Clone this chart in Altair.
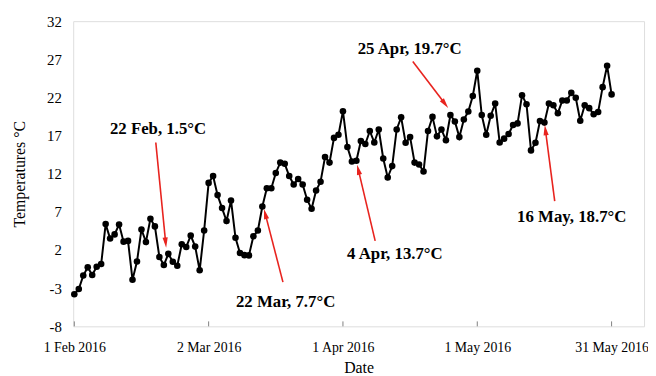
import math
import altair as alt
import pandas as pd

# ---------------- data ----------------
start_date = "2016-02-01"
temps = [
    -3.8, -3.1, -1.35, -0.27, -1.26, -0.2, 0.16, 5.4, 3.5, 4.05,
    5.34, 3.1, 3.2, -1.9, 0.5, 4.7, 3.05, 6.1, 5.1, 1.1,
    0.03, 1.5, 0.46, -0.06, 2.75, 2.4, 3.9, 2.45, -0.66, 4.56,
    10.8, 11.7, 9.2, 7.5, 5.8, 8.5, 3.6, 1.6, 1.33, 1.3,
    3.8, 4.56, 7.7, 10.1, 10.1, 12.1, 13.46, 13.3, 11.7, 10.6,
    11.3, 10.6, 8.6, 7.4, 9.8, 10.95, 14.2, 13.46, 16.7, 17.1,
    20.2, 15.5, 13.6, 13.7, 16.3, 15.9, 17.6, 16.1, 17.8, 14.0,
    11.5, 13.0, 17.8, 19.4, 16.05, 16.8, 13.46, 13.2, 12.3, 17.6,
    19.45, 16.9, 17.8, 16.4, 19.7, 18.85, 16.8, 19.1, 20.15, 22.2,
    25.5, 19.7, 17.1, 19.6, 21.2, 16.1, 16.6, 17.2, 18.4, 18.6,
    22.3, 21.1, 15.06, 16.05, 18.9, 18.7, 21.2, 20.98, 19.94, 21.6,
    21.6, 22.6, 21.96, 18.94, 20.98, 20.6, 19.8, 20.1, 23.35, 26.16,
    22.4,
]
x_tick_dates = ["2016-02-01", "2016-03-02", "2016-04-01", "2016-05-01", "2016-05-31"]
y_ticks = [-8, -3, 2, 7, 12, 17, 22, 27, 32]

ann_text = ["22 Feb, 1.5°C", "22 Mar, 7.7°C", "4 Apr, 13.7°C", "25 Apr, 19.7°C", "16 May, 18.7°C"]
ann_text_day = [18.7, 47.2, 71.6, 74.9, 111.1]
ann_text_val = [17.9, -4.76, 1.46, 28.4, 6.38]
arrow_start_day = [18.2, 46.6, 67.2, 75.6, 107.3]
arrow_start_val = [16.1, -2.2, 3.2, 26.7, 8.4]
arrow_tip_day = [20.5, 42.4, 63.2, 83.4, 105.1]
arrow_tip_val = [2.4, 7.3, 13.1, 20.7, 18.3]

# ---------------- layout ----------------
W, H = 578, 309
day_min, day_max = -0.25, 127.25
y_min, y_max = -8, 32
px_per_day = W / (day_max - day_min)
px_per_unit = H / (y_max - y_min)
FONT = "Liberation Serif"
RED = "#e8231e"
t0 = pd.Timestamp(start_date)


def day_to_ts(d):
    return t0 + pd.to_timedelta(d, unit="D")


df = pd.DataFrame({
    "date": [day_to_ts(i) for i in range(len(temps))],
    "temp": temps,
})

rows = []
for sd, sv, td, tv in zip(arrow_start_day, arrow_start_val, arrow_tip_day, arrow_tip_val):
    dx = (td - sd) * px_per_day
    dy = -(tv - sv) * px_per_unit  # pixel y grows downward
    L = math.hypot(dx, dy)
    ux, uy = dx / L, dy / L
    back = 4.5
    hx = td - ux * back / px_per_day
    hy = tv + uy * back / px_per_unit
    ang = math.degrees(math.atan2(dx, -dy)) % 360
    rows.append({
        "s": day_to_ts(sd), "sv": sv,
        "e": day_to_ts(hx), "ev": hy,
        "h": day_to_ts(hx), "hv": hy, "ang": ang,
    })
arrows = pd.DataFrame(rows)

labels = pd.DataFrame({
    "t": ann_text,
    "d": [day_to_ts(d) for d in ann_text_day],
    "v": ann_text_val,
})

ticks_df = pd.DataFrame({"d": pd.to_datetime(x_tick_dates)})

x_scale = alt.Scale(domain=[day_to_ts(day_min).isoformat(), day_to_ts(day_max).isoformat()])
y_scale = alt.Scale(domain=[y_min, y_max], nice=False, zero=False)

x_axis = alt.Axis(
    values=[alt.DateTime(year=2016, month=int(d[5:7]), date=int(d[8:10])) for d in x_tick_dates],
    format="%-d %b %Y", labelFont=FONT, labelFontSize=14, labelColor="black",
    ticks=False, tickSize=0, domain=False, grid=False, labelPadding=14,
    labelOverlap=False, labelBound=False, labelFlush=False,
    title="Date", titleFont=FONT, titleFontSize=16, titleFontWeight="normal",
    titleColor="black", titlePadding=6,
)
y_axis = alt.Axis(
    values=y_ticks, tickCount=len(y_ticks), labelFont=FONT, labelFontSize=15, labelColor="black",
    labelExpr="toString(datum.value)", labelOverlap=False, labelBound=False,
    labelSeparation=0, labelFlush=False,
    ticks=False, tickSize=0, domain=False, grid=False, labelPadding=12,
    title="Temperatures °C", titleFont=FONT, titleFontSize=16, titleFontWeight="normal",
    titleColor="black", titleX=-54, titleY=H / 2, titleAngle=270,
    titleAlign="center", titleBaseline="middle",
)

base = alt.Chart(df)
line = base.mark_line(color="black", strokeWidth=2).encode(
    x=alt.X("date:T", scale=x_scale, axis=x_axis),
    y=alt.Y("temp:Q", scale=y_scale, axis=y_axis),
)
pts = base.mark_circle(color="black", size=44, opacity=1).encode(
    x="date:T", y="temp:Q"
)

tick_marks = alt.Chart(ticks_df).mark_rule(color="#808080", strokeWidth=1).encode(
    x="d:T", y=alt.value(H), y2=alt.value(H - 5)
)

arrow_lines = alt.Chart(arrows).mark_rule(color=RED, strokeWidth=1.6).encode(
    x="s:T", y="sv:Q", x2="e:T", y2="ev:Q"
)
arrow_heads = alt.Chart(arrows).mark_point(
    shape="M0,-1L0.5,1L-0.5,1Z", filled=True, color=RED, size=110, opacity=1, strokeWidth=0
).encode(x="h:T", y="hv:Q", angle=alt.Angle("ang:Q", scale=None))

ann = alt.Chart(labels).mark_text(
    font=FONT, fontSize=17, fontWeight="bold", color="black", align="center", baseline="middle"
).encode(x="d:T", y="v:Q", text="t:N")

chart = alt.layer(line, tick_marks, pts, arrow_lines, arrow_heads, ann).properties(
    width=W, height=H,
    autosize=alt.AutoSizeParams(type="none"),
    padding={"left": 66, "top": 11, "right": 4, "bottom": 50},
).configure_view(stroke="#808080", strokeWidth=1.2).configure_axis(
    labelOverlap=False
).configure(background="white")

chart.save("out.html", embed_options={"renderer": "svg", "actions": False})
